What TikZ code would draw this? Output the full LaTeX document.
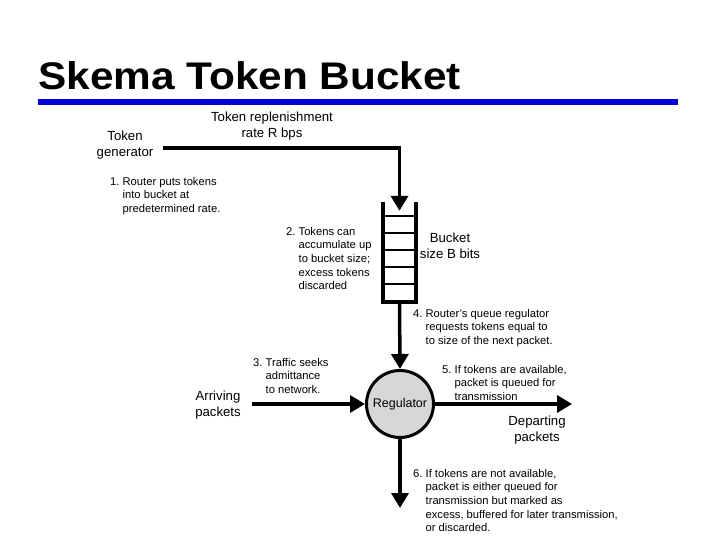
\documentclass[tikz,border=0pt]{standalone}
\usepackage{fontspec}
\setmainfont{Liberation Sans}
\usetikzlibrary{arrows.meta}
\definecolor{rulebl}{RGB}{0,0,215}
\definecolor{regfill}{RGB}{215,215,215}

\begin{document}
\begin{tikzpicture}[x=1pt,y=-1pt,
    flow/.style={line width=3.5pt,-{Triangle[width=17pt,length=15pt]}},
    note/.style={anchor=north west,align=left,inner sep=0pt,font=\fontsize{11.2}{13.6}\selectfont},
    lbl/.style={anchor=north,align=center,inner sep=0pt,font=\fontsize{13.2}{16.5}\selectfont}]
    \useasboundingbox (0,0) rectangle (720,540);

    % title and rule
    \node[anchor=base west,inner sep=0pt,xscale=1.1,font=\fontsize{38.5}{40}\selectfont\bfseries] (title) at (38,90) {Skema Token Bucket};
    \fill[rulebl] (38,99) rectangle (678,105);

    % labels
    \node[lbl] (rate) at (272,111.5) {Token replenishment\\rate R bps};
    \node[lbl] (gen) at (125,130.5) {Token\\generator};
    \node[lbl] (size) at (450,232.5) {Bucket\\size B bits};
    \node[lbl] (arr) at (218,390.5) {Arriving\\packets};
    \node[lbl] (dep) at (537,415.5) {Departing\\packets};

    % notes
    \node[note] (n1) at (110,177) {1.\ Router puts tokens\\\hphantom{1.\ }into bucket at\\\hphantom{1.\ }predetermined rate.};
    \node[note] (n2) at (286,227) {2.\ Tokens can\\\hphantom{2.\ }accumulate up\\\hphantom{2.\ }to bucket size;\\\hphantom{2.\ }excess tokens\\\hphantom{2.\ }discarded};
    \node[note] (n3) at (253,358) {3.\ Traffic seeks\\\hphantom{3.\ }admittance\\\hphantom{3.\ }to network.};
    \node[note] (n4) at (413,309) {4.\ Router's queue regulator\\\hphantom{4.\ }requests tokens equal to\\\hphantom{4.\ }to size of the next packet.};
    \node[note] (n5) at (442,365) {5.\ If tokens are available,\\\hphantom{5.\ }packet is queued for\\\hphantom{5.\ }transmission};
    \node[note] (n6) at (413,469) {6.\ If tokens are not available,\\\hphantom{6.\ }packet is either queued for\\\hphantom{6.\ }transmission but marked as\\\hphantom{6.\ }excess, buffered for later transmission,\\\hphantom{6.\ }or discarded.};

    % bucket
    \node[minimum width=33pt,minimum height=100pt,inner sep=0pt] (bucket) at (399.5,252) {};
    \foreach \y in {216,233,250,267,284}
        \draw[line width=1.5pt] (bucket.west |- 0,\y) -- (bucket.east |- 0,\y);
    \draw[line width=3.5pt] (bucket.north west) -- (bucket.south west) -- (bucket.south east) -- (bucket.north east);

    % regulator
    \node[circle,draw,line width=3pt,fill=regfill,minimum size=67pt,inner sep=0pt,
        font=\fontsize{12.5}{14}\selectfont] (reg) at (400,404) {Regulator};

    % connectors
    \coordinate (src) at (163,148);
    \coordinate (in) at (252,404);
    \coordinate (out) at (572,404);
    \coordinate (drop) at (400,508);
    \draw[flow] (src) -| ([yshift=-9pt]bucket.north);
    \draw[flow] (bucket.south) -- (reg.north);
    \draw[flow] (in) -- (reg.west);
    \draw[flow] (reg.east) -- (out);
    \draw[flow] (reg.south) -- (drop);
\end{tikzpicture}
\end{document}
